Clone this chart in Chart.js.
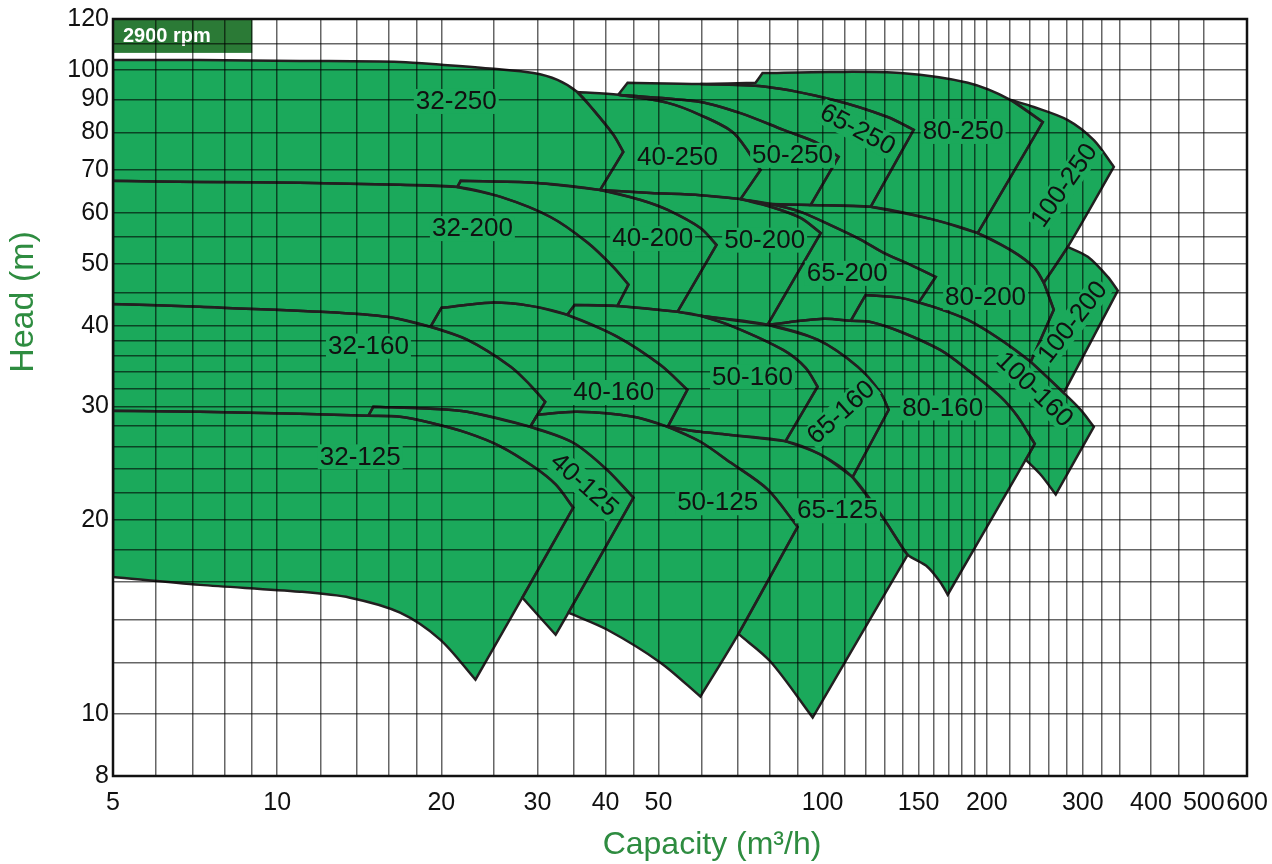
<!DOCTYPE html>
<html>
<head>
<meta charset="utf-8">
<script src="https://cdn.jsdelivr.net/npm/chart.js@4"></script>
<style>
  html, body { margin: 0; padding: 0; background: #fff; }
</style>
</head>
<body>
<canvas id="chart" width="1272" height="864"></canvas>
<script>
// tick labels and grid values
const xTicks = [5, 10, 20, 30, 40, 50, 100, 150, 200, 300, 400, 500, 600];
const yTicks = [8, 10, 20, 30, 40, 50, 60, 70, 80, 90, 100, 120];
const xGrid = [5, 6, 7, 8, 9, 10, 12, 14, 16, 18, 20, 25, 30, 35, 40, 45, 50, 60, 70, 80, 90,
  100, 110, 120, 130, 140, 150, 160, 170, 180, 190, 200, 220, 240, 260, 280, 300, 325, 350, 400, 450, 500, 600];
const yGrid = [8, 10, 12, 14, 16, 18, 20, 22, 24, 26, 28, 30, 32, 34, 36, 38, 40, 45, 50, 55, 60, 70, 80, 90, 100, 110, 120];

// pump areas, outline as [capacity m3/h, head m]
const pump32_125 = [[5,29.55],[7.22,29.44],[11.0,29.23],[14.7,29.03],[16.8,28.92],[19.1,28.3],[22.3,27.3],[25.7,26.0],[29.5,24.2],[32.4,22.7],[34.9,20.9],[28.15,15.14],[23.1,11.29],[19.9,13.03],[16.8,14.35],[13.6,15.14],[11.0,15.47],[7.22,15.85],[5,16.3]];
const pump40_125 = [[14.7,29.03],[15.0,29.97],[19.1,29.76],[22.3,29.44],[29.1,27.9],[34.9,26.35],[40.3,23.9],[45.0,21.65],[34.2,14.35],[32.4,13.26],[28.15,15.14],[34.9,20.9],[32.4,22.7],[29.5,24.2],[25.7,26.0],[22.3,27.3],[19.1,28.3],[16.8,28.92]];
const pump50_125 = [[29.1,27.9],[30.0,29.13],[35.5,29.44],[45.0,28.92],[52.0,27.9],[59.7,26.45],[67.8,24.55],[79.3,22.3],[90.0,19.5],[70.1,13.3],[59.7,10.63],[50.45,12.0],[40.3,13.5],[34.2,14.35],[45.0,21.65],[40.3,23.9],[34.9,26.35]];
const pump65_125 = [[52.0,27.9],[59.7,27.4],[67.8,27.1],[85.55,26.5],[99.2,25.25],[113.5,23.3],[127.8,20.4],[139,18.3],[143.2,17.65],[95.9,9.86],[80.3,12.04],[70.1,13.3],[90.0,19.5],[79.3,22.3],[67.8,24.55],[59.7,26.45]];

const pump32_160 = [[5,43.3],[7.22,42.85],[12.0,42.1],[15.9,41.35],[19.1,39.9],[22.3,38.1],[26.8,34.6],[29.1,32.4],[31.0,30.5],[29.1,27.9],[22.3,29.44],[19.1,29.76],[15.0,29.97],[14.7,29.03],[11.0,29.23],[7.22,29.44],[5,29.55]];
const pump40_160 = [[19.1,39.9],[20.0,42.7],[24.6,43.5],[29.1,43.0],[34.05,41.65],[42.06,38.5],[50.45,34.8],[56.5,31.85],[52.0,27.9],[45.0,28.92],[35.5,29.44],[30.0,29.13],[29.1,27.9],[31.0,30.5],[29.1,32.4],[26.8,34.6],[22.3,38.1]];
const pump50_160 = [[34.05,41.65],[35.1,43.15],[42.06,43.0],[54.2,42.1],[59.7,41.5],[68.7,39.9],[84.8,36.7],[93.1,34.45],[97.9,32.2],[85.55,26.5],[67.8,27.1],[59.7,27.4],[52.0,27.9],[56.5,31.85],[50.45,34.8],[42.06,38.5]];
const pump65_160 = [[59.7,41.5],[79.3,40.2],[97.9,38.1],[115.9,34.6],[127.8,31.5],[132.2,29.65],[113.5,23.3],[99.2,25.25],[85.55,26.5],[97.9,32.2],[93.1,34.45],[84.8,36.7],[68.7,39.9]];
const pump80_160 = [[79.3,40.2],[100.4,41.06],[112.6,40.76],[122.5,40.6],[139,39.2],[164.6,36.7],[184.6,34.2],[212.1,31.05],[228,28.92],[244.9,26.25],[235.8,24.8],[169.6,15.3],[164.6,15.97],[155.8,16.9],[143.2,17.65],[139,18.3],[127.8,20.4],[113.5,23.3],[132.2,29.65],[127.8,31.5],[115.9,34.6],[97.9,38.1]];
const pump100_160 = [[112.6,40.76],[119.9,44.7],[139,44.25],[159.8,42.85],[184.6,40.9],[212.1,38.1],[240.8,35.2],[276.8,31.5],[297.4,29.65],[314.3,27.9],[267.6,21.9],[251.2,23.5],[235.8,24.8],[244.9,26.25],[228,28.92],[212.1,31.05],[184.6,34.2],[164.6,36.7],[139,39.2],[122.5,40.6]];

const pump32_200 = [[5,67.25],[7.22,67.0],[11.0,66.8],[16.8,66.3],[21.4,65.8],[25.7,63.5],[31.7,59.1],[37.1,53.9],[41.35,49.4],[44.06,46.4],[42.06,43.0],[35.1,43.15],[34.05,41.65],[29.1,43.0],[24.6,43.5],[20.0,42.7],[19.1,39.9],[15.9,41.35],[12.0,42.1],[7.22,42.85],[5,43.3]];
const pump40_200 = [[21.4,65.8],[21.7,67.25],[29.5,66.8],[39.1,65.1],[46.4,62.8],[52.0,60.6],[59.7,56.8],[63.9,53.5],[54.2,42.1],[42.06,43.0],[44.06,46.4],[41.35,49.4],[37.1,53.9],[31.7,59.1],[25.7,63.5]];
const pump50_200 = [[39.1,65.1],[48.4,64.4],[59.7,63.9],[70.7,63.0],[80.3,61.3],[91.1,58.9],[99.2,55.8],[79.3,40.2],[59.7,41.5],[54.2,42.1],[63.9,53.5],[59.7,56.8],[52.0,60.6],[46.4,62.8]];
const pump65_200 = [[70.7,63.0],[80.3,61.9],[91.1,60.2],[103.4,57.4],[117.4,54.5],[129.4,52.0],[145,49.8],[161.2,47.7],[150,43.5],[139,44.25],[119.9,44.7],[112.6,40.76],[100.4,41.06],[79.3,40.2],[99.2,55.8],[91.1,58.9],[80.3,61.3]];
const pump80_200 = [[80.3,61.9],[95.1,61.7],[122.5,61.3],[157.8,58.7],[192.5,55.8],[221.3,52.5],[243.9,49.4],[254.4,46.7],[265.4,42.4],[240.8,35.2],[212.1,38.1],[184.6,40.9],[159.8,42.85],[150,43.5],[161.2,47.7],[145,49.8],[129.4,52.0],[117.4,54.5],[103.4,57.4],[91.1,60.2]];
const pump100_200 = [[254.4,46.7],[281.5,53.1],[306.4,51.25],[333.4,47.7],[347.8,45.4],[276.8,31.5],[240.8,35.2],[265.4,42.4]];

const pump32_250 = [[5,103.6],[7.22,103.6],[11.0,103.3],[16.8,102.9],[20.2,101.8],[24.9,100.4],[29.5,98.9],[32.65,96.5],[35.5,92.4],[38.0,86.7],[41.35,79.3],[43.1,74.6],[39.1,65.1],[29.5,66.8],[21.7,67.25],[21.4,65.8],[16.8,66.3],[11.0,66.8],[7.22,67.0],[5,67.25]];
const pump40_250 = [[35.5,92.4],[42.2,91.5],[52.0,88.9],[59.7,85.1],[68.7,79.8],[76.95,69.9],[70.7,63.0],[59.7,63.9],[48.4,64.4],[39.1,65.1],[43.1,74.6],[41.35,79.3],[38.0,86.7]];
const pump50_250 = [[42.2,91.5],[59.7,89.2],[70.7,85.7],[84.8,80.7],[97.9,77.0],[107,73.3],[95.1,61.7],[80.3,61.9],[70.7,63.0],[76.95,69.9],[68.7,79.8],[59.7,85.1],[52.0,88.9]];
const pump65_250 = [[42.2,91.5],[43.9,95.5],[59.7,95.1],[79.3,94.1],[104.8,89.8],[131.6,84.5],[146.9,80.7],[122.5,61.3],[95.1,61.7],[107,73.3],[97.9,77.0],[84.8,80.7],[70.7,85.7],[59.7,89.2]];
const pump80_250 = [[59.7,95.1],[75.35,95.5],[77.6,98.9],[103.4,99.3],[139,98.9],[184.6,95.5],[221.3,89.8],[253.3,83.0],[192.5,55.8],[157.8,58.7],[122.5,61.3],[146.9,80.7],[131.6,84.5],[104.8,89.8],[79.3,94.1]];
const pump100_250 = [[221.3,89.8],[243.9,87.6],[281.5,83.6],[314.3,77.8],[342.0,70.7],[281.5,53.1],[254.4,46.7],[243.9,49.4],[221.3,52.5],[192.5,55.8],[253.3,83.0]];

// label per pump: name, position (capacity, head), rotation in degrees
const pumpNames = ['32-125','40-125','50-125','65-125','32-160','40-160','50-160','65-160','80-160','100-160',
  '32-200','40-200','50-200','65-200','80-200','100-200','32-250','40-250','50-250','65-250','80-250','100-250'];
const labelQ = [14.2, 36.6, 64.2, 106.5, 14.7, 41.4, 74.4, 108, 166, 245, 22.8, 48.8, 78.3, 111, 199, 287, 21.3, 54.2, 88.1, 116, 181, 277];
const labelH = [25.1, 22.7, 21.3, 20.7, 37.3, 31.6, 33.4, 29.4, 29.9, 31.9, 56.8, 54.8, 54.5, 48.4, 44.4, 40.6, 89.5, 73.3, 73.8, 80.9, 80.4, 66.2];
const labelAngle = [0, 42, 0, 0, 0, 0, 0, -42, 0, 44, 0, 0, 0, 0, 0, -52, 0, 0, 0, 28, 0, -55];

const areas = [pump32_125, pump40_125, pump50_125, pump65_125, pump32_160, pump40_160, pump50_160, pump65_160, pump80_160, pump100_160,
  pump32_200, pump40_200, pump50_200, pump65_200, pump80_200, pump100_200, pump32_250, pump40_250, pump50_250, pump65_250, pump80_250, pump100_250];

const GREEN = '#1ba95b';
const FONT = '"Liberation Sans", Arial, sans-serif';

// close each outline; repeat sharp corners so the smoothed line keeps them pointed
function outline(pts) {
  const n = pts.length;
  const P = pts.map(p => [Math.log10(p[0]) * 545, -Math.log10(p[1]) * 644]);
  const out = [];
  pts.forEach((p, i) => {
    const a = P[(i - 1 + n) % n], b = P[i], c = P[(i + 1) % n];
    const a1 = Math.atan2(b[1] - a[1], b[0] - a[0]);
    const a2 = Math.atan2(c[1] - b[1], c[0] - b[0]);
    let d = Math.abs(a2 - a1);
    if (d > Math.PI) d = 2 * Math.PI - d;
    out.push({ x: p[0], y: p[1] });
    if (i > 0 && d > 0.6) out.push({ x: p[0], y: p[1] });
  });
  out.push({ x: pts[0][0], y: pts[0][1] });
  return out;
}

const datasets = areas.map((pts, i) => ({
  label: pumpNames[i],
  data: outline(pts),
  showLine: true,
  fill: 'shape',
  backgroundColor: GREEN,
  borderColor: '#231f20',
  borderWidth: 2.5,
  pointRadius: 0,
  tension: 0.3
}));

const decor = {
  id: 'decor',
  beforeDatasetsDraw(chart) {
    const { ctx, scales: { x, y } } = chart;
    const l = x.getPixelForValue(5), r = x.getPixelForValue(9);
    const t = y.getPixelForValue(120), b = y.getPixelForValue(106.3);
    ctx.save();
    ctx.fillStyle = '#2b7a36';
    ctx.fillRect(l, t, r - l, b - t);
    ctx.fillStyle = '#fff';
    ctx.font = 'bold 20px ' + FONT;
    ctx.textBaseline = 'middle';
    ctx.fillText('2900 rpm', l + 10, (t + b) / 2 + 1);
    ctx.restore();
  },
  afterDraw(chart) {
    const { ctx, chartArea: a, scales: { x, y } } = chart;
    ctx.save();
    // pump labels
    ctx.font = '26px ' + FONT;
    ctx.textAlign = 'center';
    ctx.textBaseline = 'middle';
    pumpNames.forEach((name, i) => {
      const px = x.getPixelForValue(labelQ[i]);
      const py = y.getPixelForValue(labelH[i]);
      ctx.save();
      ctx.translate(px, py);
      ctx.rotate(labelAngle[i] * Math.PI / 180);
      const w = ctx.measureText(name).width;
      ctx.fillStyle = GREEN;
      ctx.fillRect(-w / 2 - 2, -12, w + 4, 25);
      ctx.fillStyle = '#111';
      ctx.fillText(name, 0, 1);
      ctx.restore();
    });
    // frame
    ctx.strokeStyle = '#111';
    ctx.lineWidth = 2.5;
    ctx.strokeRect(a.left, a.top, a.right - a.left, a.bottom - a.top);
    // axis titles
    ctx.fillStyle = '#2e8c40';
    ctx.font = '32px ' + FONT;
    ctx.fillText('Capacity (m³/h)', 712, 845);
    ctx.translate(24, 302);
    ctx.rotate(-Math.PI / 2);
    ctx.font = '34px ' + FONT;
    ctx.fillText('Head (m)', 0, 0);
    ctx.restore();
  }
};

new Chart(document.getElementById('chart'), {
  type: 'scatter',
  data: { datasets },
  options: {
    responsive: false,
    animation: false,
    events: [],
    layout: { padding: { left: 0, top: 19, right: 25, bottom: 0 } },
    plugins: {
      legend: { display: false },
      tooltip: { enabled: false },
      filler: { drawTime: 'beforeDatasetsDraw' }
    },
    scales: {
      x: {
        type: 'logarithmic',
        min: 5,
        max: 600,
        afterBuildTicks: s => { s.ticks = xGrid.map(v => ({ value: v })); },
        afterFit: s => { s.height = 88; s.paddingLeft = 0; s.paddingRight = 0; },
        grid: { color: 'rgba(0,0,0,0.6)', lineWidth: 1.5, drawTicks: false, z: 1 },
        border: { display: false },
        ticks: {
          autoSkip: false, maxRotation: 0, padding: 12, color: '#111',
          font: { family: FONT, size: 25 },
          callback: v => xTicks.includes(v) ? String(v) : ''
        }
      },
      y: {
        type: 'logarithmic',
        min: 8,
        max: 120,
        afterBuildTicks: s => { s.ticks = yGrid.map(v => ({ value: v })); },
        afterFit: s => { s.width = 113; },
        grid: { color: 'rgba(0,0,0,0.6)', lineWidth: 1.5, drawTicks: false, z: 1 },
        border: { display: false },
        ticks: {
          autoSkip: false, padding: 4, color: '#111',
          font: { family: FONT, size: 25 },
          callback: v => yTicks.includes(v) ? String(v) : ''
        }
      }
    }
  },
  plugins: [decor]
});
</script>
</body>
</html>
